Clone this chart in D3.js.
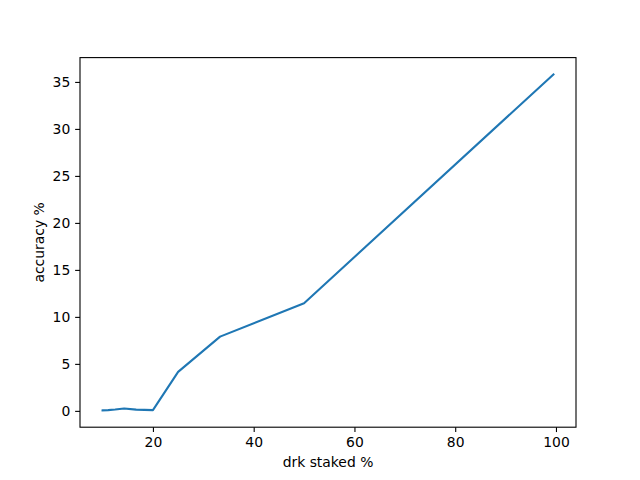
<!DOCTYPE html>
<html>
<head>
<meta charset="UTF-8" />
<script src="https://d3js.org/d3.v7.min.js"></script>
<style>
  body { margin: 0; background: #fff; }
  svg text { font-family: "DejaVu Sans", sans-serif; }
</style>
</head>
<body>
<div id="chart"></div>
<script>
// data
const stakedPct = [10, 11.11, 12.5, 14.29, 16.67, 20, 25, 33.33, 50, 99.5];
const accuracyPct = [0.05, 0.08, 0.14, 0.25, 0.13, 0.08, 4.15, 7.9, 11.45, 35.8];
const xTicks = [20, 40, 60, 80, 100];
const yTicks = [0, 5, 10, 15, 20, 25, 30, 35];

const width = 640, height = 480;
const margin = { top: 57.6, right: 64, bottom: 52.8, left: 80 };

const svg = d3.select("#chart").append("svg")
  .attr("width", width).attr("height", height);

// matplotlib-like 5% padding
const xExt = d3.extent(stakedPct), yExt = d3.extent(accuracyPct);
const xPad = (xExt[1] - xExt[0]) * 0.05, yPad = (yExt[1] - yExt[0]) * 0.05;

const x = d3.scaleLinear()
  .domain([xExt[0] - xPad, xExt[1] + xPad])
  .range([margin.left, width - margin.right]);
const y = d3.scaleLinear()
  .domain([yExt[0] - yPad, yExt[1] + yPad])
  .range([height - margin.bottom, margin.top]);

const tickLen = 4.86;

const xAxis = svg.append("g")
  .attr("transform", `translate(0,${height - margin.bottom})`)
  .call(d3.axisBottom(x).tickValues(xTicks).tickSize(tickLen).tickPadding(4.86).tickSizeOuter(0));
const yAxis = svg.append("g")
  .attr("transform", `translate(${margin.left},0)`)
  .call(d3.axisLeft(y).tickValues(yTicks).tickSize(tickLen).tickPadding(4.86).tickSizeOuter(0));

[xAxis, yAxis].forEach(g => {
  g.select(".domain").remove();
  g.selectAll(".tick line").attr("stroke", "#000").attr("stroke-width", 1.1);
  g.selectAll(".tick text").attr("font-size", "13.9px").attr("fill", "#000")
    .attr("font-family", "DejaVu Sans");
});

// frame
svg.append("rect")
  .attr("x", margin.left).attr("y", margin.top)
  .attr("width", width - margin.left - margin.right)
  .attr("height", height - margin.top - margin.bottom)
  .attr("fill", "none").attr("stroke", "#000").attr("stroke-width", 1.1);

const line = d3.line()
  .x((d, i) => x(stakedPct[i]))
  .y(d => y(d));

svg.append("path")
  .datum(accuracyPct)
  .attr("fill", "none")
  .attr("stroke", "#1f77b4")
  .attr("stroke-width", 2.08)
  .attr("stroke-linejoin", "round")
  .attr("stroke-linecap", "square")
  .attr("d", line);

svg.append("text")
  .attr("x", (margin.left + width - margin.right) / 2)
  .attr("y", 467)
  .attr("text-anchor", "middle")
  .attr("font-size", "13.9px")
  .text("drk staked %");

svg.append("text")
  .attr("transform", `translate(44,${(margin.top + height - margin.bottom) / 2}) rotate(-90)`)
  .attr("text-anchor", "middle")
  .attr("font-size", "13.9px")
  .text("accuracy %");
</script>
</body>
</html>
